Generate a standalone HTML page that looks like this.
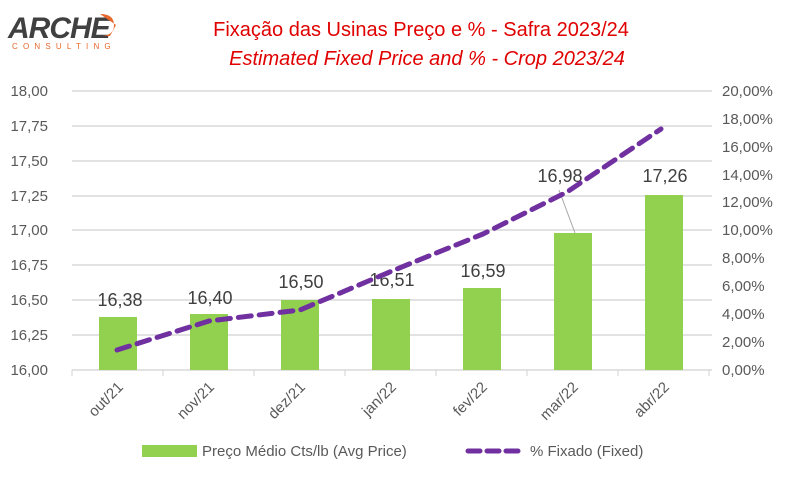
<!DOCTYPE html>
<html><head><meta charset="utf-8"><style>
body{margin:0;background:#fff;}
svg{display:block;font-family:"Liberation Sans",sans-serif;}
</style></head><body>
<svg width="786" height="481" viewBox="0 0 786 481" xmlns="http://www.w3.org/2000/svg">
<rect width="786" height="481" fill="#fff"/>
<!-- logo -->
<text x="8" y="38" font-size="30" font-weight="bold" fill="#404040" font-style="italic" letter-spacing="-1">ARCHE</text>
<path d="M100 14 q14 0 14 11 q0 11 -14 11 l10 0 l6 -11 z" fill="#e8672c"/>
<text x="12" y="49" font-size="8" fill="#e8672c" letter-spacing="5.2">CONSULTING</text>
<!-- titles -->
<text x="421" y="36" font-size="20" fill="#e00000" text-anchor="middle">Fixação das Usinas Preço e %  - Safra 2023/24</text>
<text x="427" y="65" font-size="20" fill="#e00000" text-anchor="middle" font-style="italic">Estimated Fixed Price and % - Crop 2023/24</text>
<!-- gridlines -->
<g stroke="#d9d9d9" stroke-width="1.5">
<line x1="72" x2="712" y1="91" y2="91"/><line x1="72" x2="712" y1="126" y2="126"/>
<line x1="72" x2="712" y1="161" y2="161"/><line x1="72" x2="712" y1="196" y2="196"/>
<line x1="72" x2="712" y1="230" y2="230"/><line x1="72" x2="712" y1="265" y2="265"/>
<line x1="72" x2="712" y1="300" y2="300"/><line x1="72" x2="712" y1="335" y2="335"/>
<line x1="72" x2="712" y1="370" y2="370"/>
</g>
<g stroke="#d9d9d9" stroke-width="1.2">
<line x1="72" x2="72" y1="370" y2="376"/><line x1="163" x2="163" y1="370" y2="376"/>
<line x1="254" x2="254" y1="370" y2="376"/><line x1="345" x2="345" y1="370" y2="376"/>
<line x1="436" x2="436" y1="370" y2="376"/><line x1="527" x2="527" y1="370" y2="376"/>
<line x1="618" x2="618" y1="370" y2="376"/><line x1="709" x2="709" y1="370" y2="376"/>
</g>
<!-- left axis labels -->
<g font-size="15" fill="#595959" text-anchor="end">
<text x="48" y="96">18,00</text><text x="48" y="131">17,75</text><text x="48" y="166">17,50</text>
<text x="48" y="201">17,25</text><text x="48" y="235">17,00</text><text x="48" y="270">16,75</text>
<text x="48" y="305">16,50</text><text x="48" y="340">16,25</text><text x="48" y="375">16,00</text>
</g>
<g font-size="15" fill="#595959">
<text x="722" y="96">20,00%</text><text x="722" y="124">18,00%</text><text x="722" y="152">16,00%</text>
<text x="722" y="180">14,00%</text><text x="722" y="207">12,00%</text><text x="722" y="235">10,00%</text>
<text x="722" y="263">8,00%</text><text x="722" y="291">6,00%</text><text x="722" y="319">4,00%</text>
<text x="722" y="347">2,00%</text><text x="722" y="375">0,00%</text>
</g>
<!-- bars -->
<g fill="#92d050">
<rect x="99" y="317" width="38" height="53"/>
<rect x="190" y="314" width="38" height="56"/>
<rect x="281" y="300" width="38" height="70"/>
<rect x="372" y="299" width="38" height="71"/>
<rect x="463" y="288" width="38" height="82"/>
<rect x="554" y="233" width="38" height="137"/>
<rect x="645" y="195" width="38" height="175"/>
</g>
<line x1="559" y1="190" x2="575" y2="233" stroke="#a6a6a6" stroke-width="1"/>
<!-- value labels -->
<g font-size="18" fill="#404040" text-anchor="middle">
<text x="120" y="306">16,38</text><text x="210" y="304">16,40</text><text x="301" y="288">16,50</text>
<text x="392" y="286">16,51</text><text x="483" y="277">16,59</text><text x="560" y="182">16,98</text>
<text x="665" y="182">17,26</text>
</g>
<!-- line -->
<polyline points="117,350 209,321 300,310 392,271 483,234 567,192 661,129" fill="none" stroke="#7030a0" stroke-width="5" stroke-dasharray="13,8" stroke-linecap="round" stroke-linejoin="round"/>
<!-- x labels -->
<g font-size="15" fill="#595959" text-anchor="end">
<text transform="translate(124,388) rotate(-45)">out/21</text>
<text transform="translate(215,388) rotate(-45)">nov/21</text>
<text transform="translate(306,388) rotate(-45)">dez/21</text>
<text transform="translate(397,388) rotate(-45)">jan/22</text>
<text transform="translate(488,388) rotate(-45)">fev/22</text>
<text transform="translate(579,388) rotate(-45)">mar/22</text>
<text transform="translate(670,388) rotate(-45)">abr/22</text>
</g>
<!-- legend -->
<rect x="142" y="445" width="55" height="12" fill="#92d050"/>
<text x="202" y="456" font-size="15" fill="#595959">Preço Médio Cts/lb (Avg Price)</text>
<line x1="468" y1="451" x2="525" y2="451" stroke="#7030a0" stroke-width="5" stroke-dasharray="12,7" stroke-linecap="round"/>
<text x="530" y="456" font-size="15" fill="#595959">% Fixado (Fixed)</text>
</svg>
</body></html>
